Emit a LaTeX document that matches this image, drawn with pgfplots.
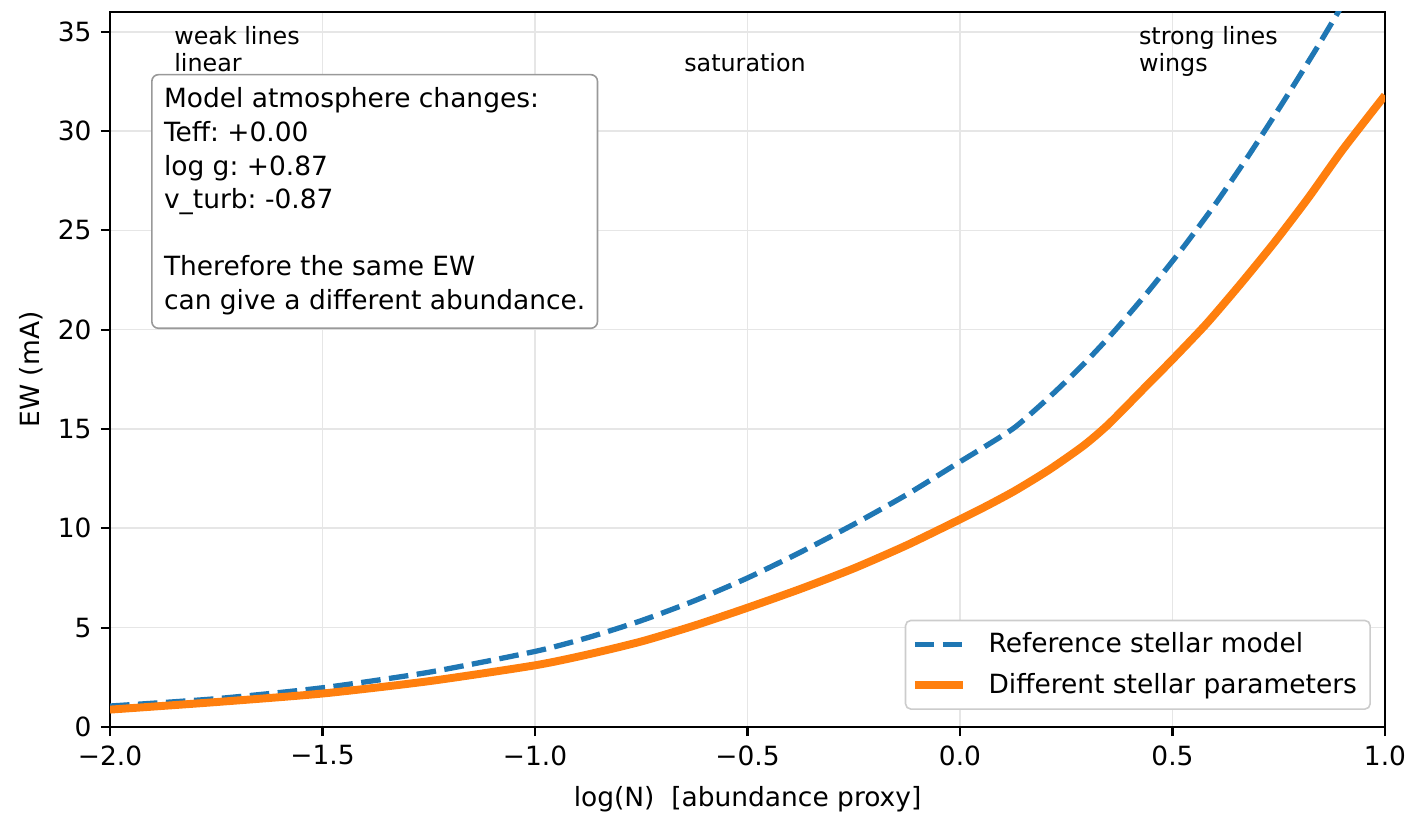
\documentclass[border=0pt]{standalone}
\usepackage{pgfplots}
\pgfplotsset{compat=1.18}
\usepackage{fontspec}
\setmainfont{DejaVu Sans}
\frenchspacing
\definecolor{mplblue}{HTML}{1F77B4}
\definecolor{mplorange}{HTML}{FF7F0E}
\definecolor{gridc}{HTML}{E6E6E6}
\pgfplotstableread{
x y
-2.0 1.05
-1.75 1.42
-1.5 1.97
-1.25 2.75
-1.0 3.8
-0.875 4.5
-0.75 5.35
-0.625 6.35
-0.5 7.5
-0.375 8.8
-0.25 10.2
-0.125 11.7
0.0 13.35
0.065 14.2
0.13 15.1
0.21 16.6
0.29 18.25
0.36 19.85
0.44 21.85
0.52 24.0
0.6 26.3
0.68 28.8
0.76 31.45
0.84 34.2
0.92 37.1
1.0 40.2
}\bluedata
\pgfplotstableread{
x y
-2.0 0.87
-1.75 1.25
-1.5 1.68
-1.25 2.3
-1.0 3.1
-0.875 3.65
-0.75 4.3
-0.625 5.1
-0.5 6.0
-0.375 6.95
-0.25 7.98
-0.125 9.15
0.0 10.45
0.065 11.15
0.13 11.9
0.21 12.95
0.29 14.15
0.35 15.25
0.44 17.2
0.5 18.5
0.58 20.3
0.66 22.3
0.74 24.4
0.82 26.65
0.9 29.05
1.0 31.8
}\orangedata
\begin{document}
\begin{tikzpicture}
\begin{axis}[
  name=ax, at={(0,0)}, anchor=south west,
  scale only axis, width=482pt, height=270.3pt,
  xmin=-2, xmax=1, ymin=0, ymax=36,
  xtick={-2,-1.5,-1,-0.5,0,0.5,1},
  xticklabels={−2.0,−1.5,−1.0,−0.5,0.0,0.5,1.0},
  ytick={0,5,10,15,20,25,30,35},
  /pgf/number format/assume math mode=true,
  tick label style={font=\fontsize{10pt}{12pt}\selectfont, black},
  tick align=outside, tick pos=left, major tick length=3.5pt,
  tick style={black, line width=0.8pt},
  axis line style={line width=0.8pt},
  grid=major, major grid style={gridc, line width=0.6pt},
  xlabel={log(N)\ \ [abundance proxy]},
  ylabel={EW (mA)},
  label style={font=\fontsize{10pt}{12pt}\selectfont},
  xlabel style={at={(axis description cs:0.5,-0.112)}, anchor=base},
  ylabel style={at={(axis description cs:-0.055,0.5)}, anchor=base},
  legend cell align=left,
  legend image code/.code={\draw[#1] (0pt,0pt) -- (18.4pt,0pt);},
  legend style={at={(0.989,0.0238)}, anchor=south east, draw=black!20,
    rounded corners=2pt, fill=white, line width=0.6pt,
    font=\fontsize{10pt}{12pt}\selectfont, inner xsep=2pt, inner ysep=1.5pt,
    row sep=0.3pt, nodes={inner sep=3pt},
    /tikz/every odd column/.append style={column sep=5pt}},
]
\addplot[mplblue, line width=2pt, dash pattern=on 7.4pt off 3.2pt, line join=round, smooth, tension=0.4] table[x=x,y=y] {\bluedata};
\addlegendentry{Reference stellar model}
\addplot[mplorange, line width=3pt, line join=round, smooth, tension=0.4] table[x=x,y=y] {\orangedata};
\addlegendentry{Different stellar parameters}

\node[anchor=base west, inner sep=0pt, font=\fontsize{9pt}{10.8pt}\selectfont] at (axis cs:-1.85,33) {linear};
\node[anchor=base west, inner sep=0pt, yshift=10.2pt, font=\fontsize{9pt}{10.8pt}\selectfont] at (axis cs:-1.85,33) {weak lines};
\node[anchor=base west, inner sep=0pt, font=\fontsize{9pt}{10.8pt}\selectfont] at (axis cs:-0.65,33) {saturation};
\node[anchor=base west, inner sep=0pt, font=\fontsize{9pt}{10.8pt}\selectfont] at (axis cs:0.42,33) {wings};
\node[anchor=base west, inner sep=0pt, yshift=10.2pt, font=\fontsize{9pt}{10.8pt}\selectfont] at (axis cs:0.42,33) {strong lines};

\node[draw=black!40, rounded corners=2.5pt, fill=white, align=left, anchor=north west,
  inner xsep=4.6pt, inner ysep=5pt, line width=0.6pt,
  font=\fontsize{10pt}{12.7pt}\selectfont] at (axis cs:-1.9035,32.88)
  {Model atmosphere changes:\\Teff: +0.00\\log g: +0.87\\v\_turb: -0.87\\[12.7pt]Therefore the same EW\\can give a different abundance.};
\end{axis}
\pgfresetboundingbox
\path[use as bounding box] ([shift={(-41.6pt,-33.3pt)}]ax.south west) rectangle ([shift={(9.45pt,4.5pt)}]ax.north east);
\end{tikzpicture}
\end{document}
